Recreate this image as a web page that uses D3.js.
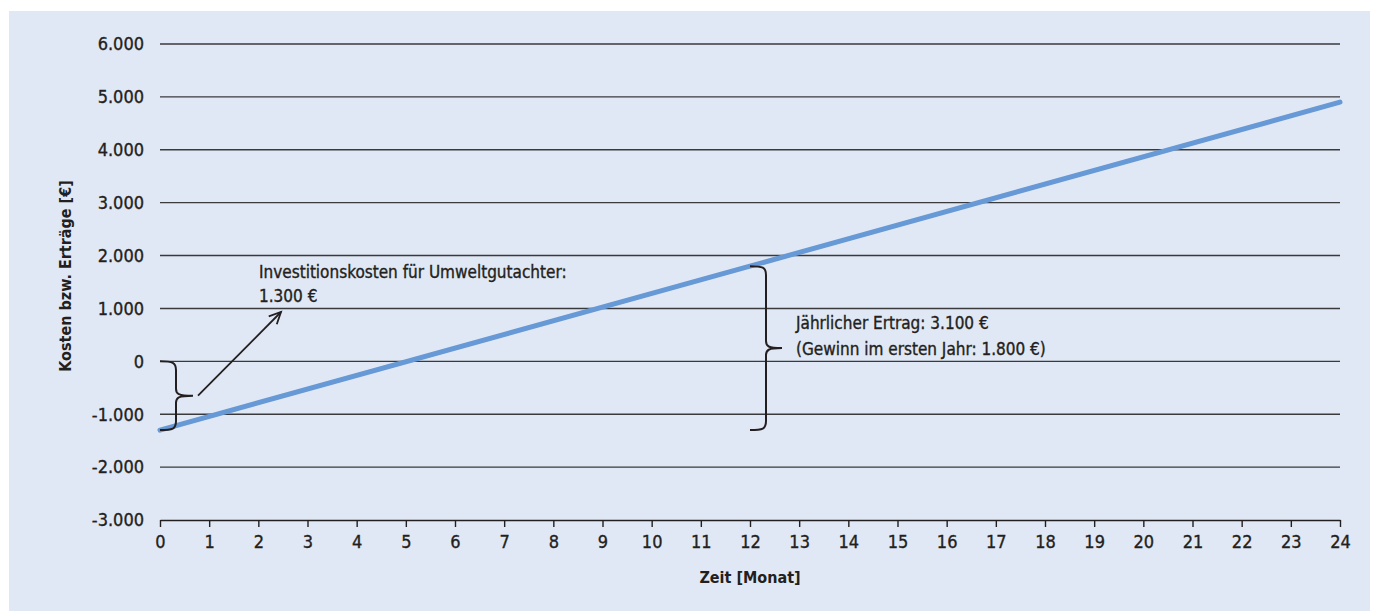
<!DOCTYPE html>
<html>
<head>
<meta charset="utf-8">
<script src="https://cdn.jsdelivr.net/npm/d3@7"></script>
<style>
  html, body { margin: 0; padding: 0; background: #ffffff; }
  svg { display: block; }
  text { font-family: "DejaVu Sans Condensed", "Liberation Sans", sans-serif; fill: #231f20; }
  text.reg { stroke: #231f20; stroke-width: 0.35px; }
</style>
</head>
<body>
<svg id="chart" width="1374" height="611"></svg>
<script>
// Cumulative costs / returns over time (months)
const months = [0, 12, 24];
const balance = [-1300, 1800, 4900];

const yTicks = [-3000, -2000, -1000, 0, 1000, 2000, 3000, 4000, 5000, 6000];
const xTicks = d3.range(0, 25);

const yTitle = "Kosten bzw. Erträge [€]";
const xTitle = "Zeit [Monat]";
const investLabel = ["Investitionskosten für Umweltgutachter:", "1.300 €"];
const yieldLabel = ["Jährlicher Ertrag: 3.100 €", "(Gewinn im ersten Jahr: 1.800 €)"];

const svg = d3.select("#chart");
const ink = "#231f20";

svg.append("rect")
  .attr("x", 9).attr("y", 11)
  .attr("width", 1361).attr("height", 600)
  .attr("fill", "#e1e8f5");

const x = d3.scaleLinear().domain([0, 24]).range([160, 1340]);
const y = d3.scaleLinear().domain([-3000, 6000]).range([520, 44]);

const fmt = v => d3.format(",")(v).replace(/,/g, ".").replace("−", "-");

// horizontal grid lines
svg.append("g")
  .selectAll("line")
  .data(yTicks.filter(v => v !== -3000))
  .join("line")
  .attr("x1", x(0)).attr("x2", x(24))
  .attr("y1", d => y(d)).attr("y2", d => y(d))
  .attr("stroke", "#3a3a3c").attr("stroke-width", 1.4);

// y tick labels
svg.append("g")
  .selectAll("text")
  .data(yTicks)
  .join("text")
  .attr("class", "reg")
  .attr("x", 144)
  .attr("y", d => y(d))
  .attr("dy", "0.35em")
  .attr("text-anchor", "end")
  .attr("font-size", 18)
  .text(d => fmt(d));

// x axis with ticks pointing down
const xAxis = svg.append("g")
  .attr("transform", `translate(0,${y(-3000)})`)
  .call(d3.axisBottom(x).tickValues(xTicks).tickSize(7).tickSizeOuter(0).tickPadding(8).tickFormat(d => d));
xAxis.select(".domain").attr("stroke", ink).attr("stroke-width", 1.6);
xAxis.selectAll(".tick line").attr("stroke", ink).attr("stroke-width", 1.4);
xAxis.selectAll(".tick text")
  .attr("class", "reg")
  .attr("font-size", 18)
  .attr("font-family", "DejaVu Sans Condensed, sans-serif")
  .attr("fill", ink);

// axis titles
svg.append("text")
  .attr("transform", `translate(71,276) rotate(-90)`)
  .attr("text-anchor", "middle")
  .attr("font-size", 16)
  .attr("font-weight", "bold")
  .text(yTitle);

svg.append("text")
  .attr("x", 750).attr("y", 583)
  .attr("text-anchor", "middle")
  .attr("font-size", 16)
  .attr("font-weight", "bold")
  .text(xTitle);

// balance line
const pts = months.map((m, i) => [m, balance[i]]);
svg.append("path")
  .datum(pts)
  .attr("d", d3.line().x(d => x(d[0])).y(d => y(d[1])))
  .attr("fill", "none")
  .attr("stroke", "#6699d5")
  .attr("stroke-width", 5)
  .attr("stroke-linecap", "round");

// curly brace: vertical, opening to the left, tip pointing right
function brace(x0, yTop, yBot, depth, tip) {
  const xm = x0 + depth;
  const ym = (yTop + yBot) / 2;
  const r = 7;
  return `M${x0},${yTop}` +
    `C${x0 + depth * 0.8},${yTop} ${xm},${yTop + 1} ${xm},${yTop + r + 2}` +
    `L${xm},${ym - r}` +
    `C${xm},${ym - 2} ${xm + 2},${ym} ${xm + tip},${ym}` +
    `C${xm + 2},${ym} ${xm},${ym + 2} ${xm},${ym + r}` +
    `L${xm},${yBot - r - 2}` +
    `C${xm},${yBot - 1} ${x0 + depth * 0.8},${yBot} ${x0},${yBot}`;
}

// brace for the initial investment (0 down to start value)
svg.append("path")
  .attr("d", brace(x(0), y(0), y(balance[0]), 16, 17))
  .attr("fill", "none").attr("stroke", ink).attr("stroke-width", 2);

// brace for the first-year return (start value up to month 12)
svg.append("path")
  .attr("d", brace(x(12), y(balance[1]), y(balance[0]), 16, 16))
  .attr("fill", "none").attr("stroke", ink).attr("stroke-width", 2);

// arrow from the left brace to its label
const ax0 = 198, ay0 = (y(0) + y(balance[0])) / 2, ax1 = 281, ay1 = 312;
svg.append("line")
  .attr("x1", ax0).attr("y1", ay0).attr("x2", ax1).attr("y2", ay1)
  .attr("stroke", ink).attr("stroke-width", 1.8);
const ang = Math.atan2(ay1 - ay0, ax1 - ax0);
const hl = 13, ha = 0.45;
svg.append("path")
  .attr("d", `M${ax1 - hl * Math.cos(ang - ha)},${ay1 - hl * Math.sin(ang - ha)}` +
             `L${ax1},${ay1}` +
             `L${ax1 - hl * Math.cos(ang + ha)},${ay1 - hl * Math.sin(ang + ha)}`)
  .attr("fill", "none").attr("stroke", ink).attr("stroke-width", 1.8);

// annotation labels
svg.append("g")
  .selectAll("text")
  .data(investLabel)
  .join("text")
  .attr("class", "reg")
  .attr("x", 259)
  .attr("y", (d, i) => 272 + i * 24)
  .attr("dy", "0.35em")
  .attr("font-size", 17)
  .text(d => d);

svg.append("g")
  .selectAll("text")
  .data(yieldLabel)
  .join("text")
  .attr("class", "reg")
  .attr("x", 796)
  .attr("y", (d, i) => 323 + i * 26.5)
  .attr("dy", "0.35em")
  .attr("font-size", 17)
  .text(d => d);
</script>
</body>
</html>
